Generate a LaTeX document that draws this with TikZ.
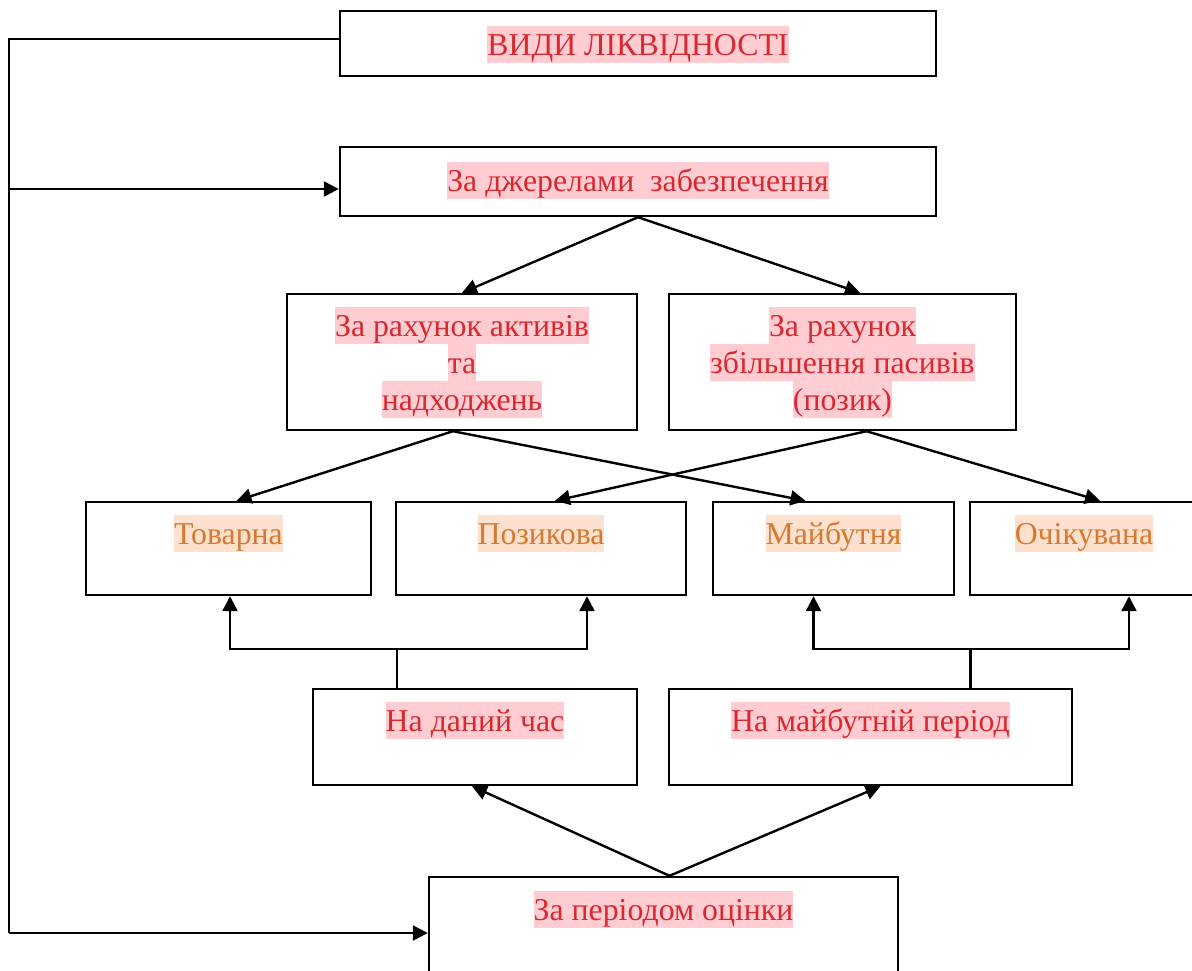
\documentclass[tikz,border=0pt]{standalone}
\usepackage{fontspec}
\setmainfont{Liberation Serif}
\usepackage{xcolor}
\definecolor{vtred}{RGB}{214,41,48}
\definecolor{vtpink}{RGB}{255,204,210}
\definecolor{vtorange}{RGB}{214,122,48}
\definecolor{vtpeach}{RGB}{253,225,206}
\usetikzlibrary{arrows.meta,positioning,calc}
\setlength{\fboxsep}{0pt}
\newcommand{\vstrut}{\rule[-3.8pt]{0pt}{18.5pt}}
\newcommand{\hlred}[1]{\colorbox{vtpink}{\vstrut#1}}
\newcommand{\hlorg}[1]{\colorbox{vtpeach}{\vstrut#1}}

\begin{document}
\begin{tikzpicture}[
  x=0.5pt, y=-0.5pt,
  box/.style={draw, line width=1.2pt, inner sep=0pt},
  lbl/.style={anchor=north, inner sep=0pt, text=vtred, align=center, font=\fontsize{15.9}{18.5}\selectfont},
  lblo/.style={lbl, text=vtorange},
  line/.style={line width=1.2pt},
  arr/.style={line, -{Triangle[length=7.5pt,width=7.5pt]}}
]
  \useasboundingbox (0,0) rectangle (1192,970);

  % boxes
  \node[box, minimum width=298pt, minimum height=32.5pt] (title) at (638,43.5) {};
  \node[box, minimum width=298pt, minimum height=34.5pt] (src) at (638,181.5) {};
  \node[box, minimum width=175pt, minimum height=68pt] (act) at (462,362) {};
  \node[box, minimum width=173.5pt, minimum height=68pt] (pas) at (842.5,362) {};

  \node[box, minimum width=142.5pt, minimum height=46.5pt] (tov) at (228.5,548.5) {};
  \node[box, minimum width=145pt, minimum height=46.5pt] (poz) at (541,548.5) {};
  \node[box, minimum width=120.5pt, minimum height=46.5pt] (may) at (833.5,548.5) {};
  \node[box, minimum width=114pt, minimum height=46.5pt] (och) at (1084,548.5) {};

  \node[box, minimum width=162pt, minimum height=48pt] (cur) at (475,737) {};
  \node[box, minimum width=201.5pt, minimum height=48pt] (fut) at (870.5,737) {};
  \node[box, minimum width=234.5pt, minimum height=56pt] (per) at (663.5,933) {};

  % texts
  \node[lbl] (titlet) at ([yshift=-7.8pt]title.north) {\hlred{ВИДИ ЛІКВІДНОСТІ}};
  \node[lbl] (srct) at ([yshift=-8pt]src.north) {\hlred{За джерелами~ забезпечення}};
  \node[lbl] (actt) at ([yshift=-7pt]act.north) {\hlred{За рахунок активів}\\\hlred{та}\\\hlred{надходжень}};
  \node[lbl] (past) at ([yshift=-7pt]pas.north) {\hlred{За рахунок}\\\hlred{збільшення пасивів}\\\hlred{(позик)}};
  \node[lblo] (tovt) at ([yshift=-7pt]tov.north) {\hlorg{Товарна}};
  \node[lblo] (pozt) at ([yshift=-7pt]poz.north) {\hlorg{Позикова}};
  \node[lblo] (mayt) at ([yshift=-7pt]may.north) {\hlorg{Майбутня}};
  \node[lblo] (ocht) at ([yshift=-7pt]och.north) {\hlorg{Очікувана}};
  \node[lbl] (curt) at ([yshift=-7pt]cur.north) {\hlred{На даний час}};
  \node[lbl] (futt) at ([yshift=-7pt]fut.north) {\hlred{На майбутній період}};
  \node[lbl] (pert) at ([yshift=-7.5pt]per.north) {\hlred{За періодом оцінки}};

  % left rail
  \coordinate (lt) at (9,39);
  \coordinate (lm) at (9,189);
  \coordinate (lb) at (9,933);
  \draw[line] ([yshift=2.25pt]title.west) -- (lt) -- (lb);
  \draw[arr] (lm) -- (src.west |- lm);
  \draw[arr] (lb) -- (per.west);

  % sources
  \draw[arr] (src.south) -- (act.north);
  \draw[arr] (src.south) -- ([xshift=8.75pt]pas.north);
  \draw[arr] ([xshift=-4.5pt]act.south) -- ([xshift=4pt]tov.north);
  \draw[arr] ([xshift=-4.5pt]act.south) -- ([xshift=-14pt]may.north);
  \draw[arr] ([xshift=12pt]pas.south) -- ([xshift=7pt]poz.north);
  \draw[arr] ([xshift=12pt]pas.south) -- ([xshift=8pt]och.north);

  % period forks
  \coordinate (cj) at (397,649);
  \coordinate (fj) at (970.5,649);
  \draw[line] ([xshift=-39pt]cur.north) -- (cj);
  \draw[arr] (cj) -| ([xshift=0.75pt]tov.south);
  \draw[arr] (cj) -| ([xshift=23pt]poz.south);
  \draw[line] ([xshift=50pt]fut.north) -- (fj);
  \draw[arr] (fj) -| ([xshift=-10pt]may.south);
  \draw[arr] (fj) -| ([xshift=22.5pt]och.south);

  \draw[arr] ([xshift=3pt]per.north) -- ([xshift=-1.5pt]cur.south);
  \draw[arr] ([xshift=3pt]per.north) -- ([xshift=5pt]fut.south);
\end{tikzpicture}
\end{document}
